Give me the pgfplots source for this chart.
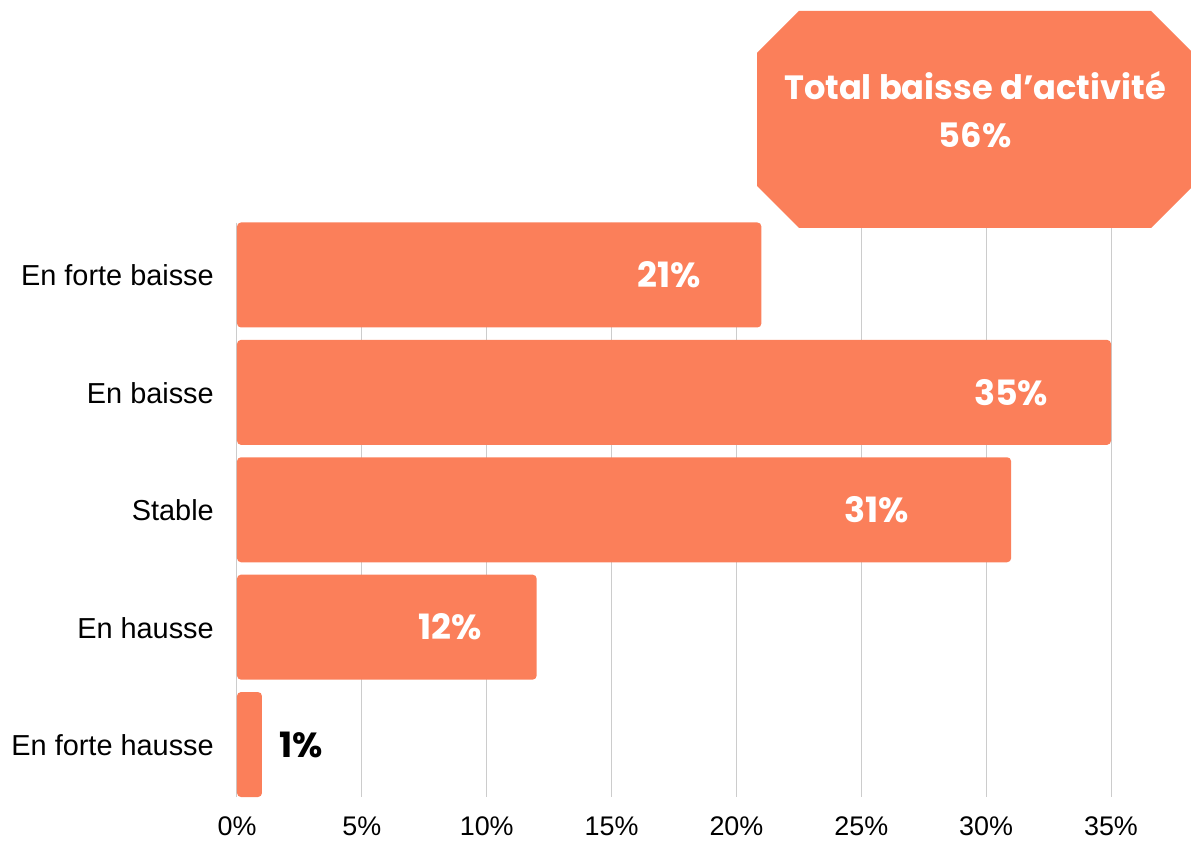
\documentclass[border=0pt]{standalone}
\usepackage{fontspec}
\setmainfont{Liberation Sans}
\newfontfamily\vfont{Poppins}
\usepackage{pgfplots}
\pgfplotsset{compat=1.18}
\definecolor{barc}{RGB}{251,127,90}
\definecolor{gridc}{RGB}{204,204,204}
\begin{document}
\begin{tikzpicture}
\path[use as bounding box] (-237bp,-44bp) rectangle (954bp,797bp);
\begin{axis}[
  at={(0,0)}, anchor=south west,
  scale only axis, width=874bp, height=574.5bp,
  xmin=0, xmax=35, ymin=-0.447, ymax=4.447, y dir=reverse,
  axis line style={draw=none},
  major tick length=0pt,
  xmajorgrids, grid style={gridc, line width=1bp},
  xtick={0,5,10,15,20,25,30,35},
  xticklabels={0\%,5\%,10\%,15\%,20\%,25\%,30\%,35\%},
  ytick={0,1,2,3,4},
  yticklabels={En forte baisse,En baisse,Stable,En hausse,En forte hausse},
  xticklabel style={font=\fontsize{27}{32}\selectfont, inner sep=0pt, anchor=base, yshift=-38bp},
  yticklabel style={font=\fontsize{29}{34}\selectfont, inner sep=0pt, anchor=base east, xshift=-23bp, yshift=-11bp},
  clip=false,
]
\addplot[xbar, bar width=105bp, fill=barc, draw=none, rounded corners=4bp]
  coordinates {(21,0) (35,1) (31,2) (12,3) (1,4)};
\addplot[only marks, mark=none, nodes near coords, point meta=explicit symbolic,
  nodes near coords style={anchor=center, text=white, font=\vfont\bfseries\fontsize{35}{40}\selectfont}]
  table[meta=label] {
x y label
17.3 0 21\%
31.0 1 35\%
25.6 2 31\%
8.54 3 12\%
};
\addplot[only marks, mark=none, nodes near coords, point meta=explicit symbolic,
  nodes near coords style={anchor=center, text=black, font=\vfont\bfseries\fontsize{35}{40}\selectfont}]
  table[meta=label] {
x y label
2.56 4 1\%
};
\end{axis}
\fill[barc] (562bp,786bp) -- (914bp,786bp) -- (956bp,744bp) -- (956bp,611bp) -- (914bp,569bp) -- (562bp,569bp) -- (520bp,611bp) -- (520bp,744bp) -- cycle;
\node[anchor=base, inner sep=0pt, text=white, font=\vfont\bfseries\fontsize{33.8}{38}\selectfont] at (738bp,697bp) {Total baisse d’activité};
\node[anchor=base, inner sep=0pt, text=white, font=\vfont\bfseries\fontsize{33.8}{38}\selectfont] at (738bp,649bp) {56\%};
\end{tikzpicture}
\end{document}
